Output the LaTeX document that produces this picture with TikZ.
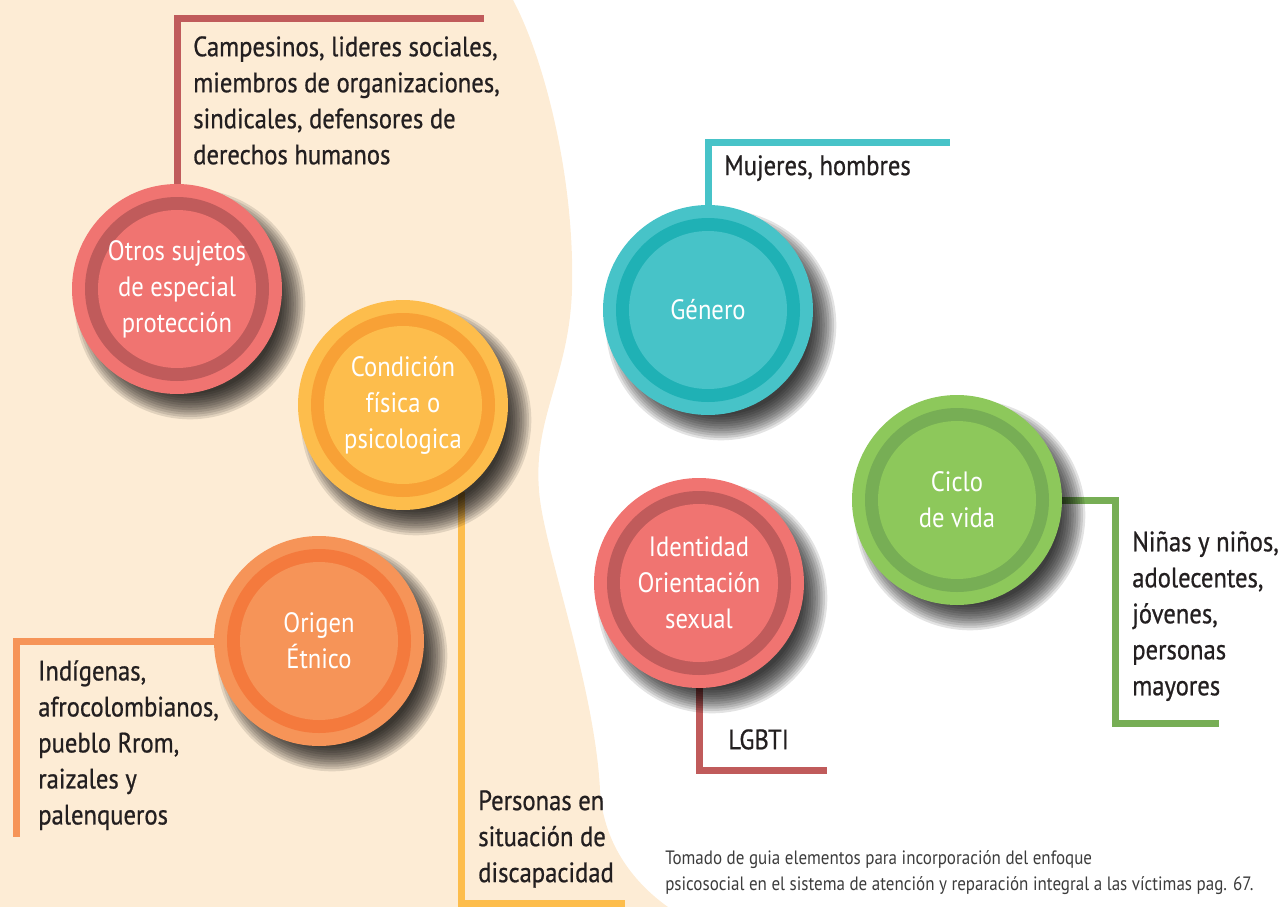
\documentclass[tikz,border=0pt]{standalone}
\usepackage{fontspec}
\setmainfont{PT Sans}[FakeStretch=0.88]
\newfontfamily\notefamily{PT Sans}[FakeStretch=0.88,FakeBold=0.7]
\usetikzlibrary{positioning}
\pgfdeclarelayer{bg}
\pgfdeclarelayer{lines}
\pgfdeclarelayer{shade}
\pgfsetlayers{bg,lines,shade,main}

\definecolor{beige}{RGB}{253,236,213}
\definecolor{ink}{RGB}{35,31,32}
\definecolor{gris}{RGB}{60,60,60}
\definecolor{rosa}{RGB}{240,116,113}
\definecolor{rosaring}{RGB}{192,91,91}
\definecolor{amarillo}{RGB}{253,189,76}
\definecolor{amarilloring}{RGB}{248,161,54}
\definecolor{naranja}{RGB}{246,148,88}
\definecolor{naranjaring}{RGB}{244,122,61}
\definecolor{turquesa}{RGB}{71,195,200}
\definecolor{turquesaring}{RGB}{31,177,181}
\definecolor{verde}{RGB}{141,200,91}
\definecolor{verdering}{RGB}{119,174,85}

\newcommand\bubfont{\fontsize{21}{27}\selectfont}
\newcommand\txtfont{\notefamily\fontsize{21}{27}\selectfont}
\newcommand\srcfont{\fontsize{14.5}{20}\selectfont}

\newcommand\castshadow[1]{%
  \begin{pgfonlayer}{shade}
    \foreach \k in {0,...,11}{\fill[black,opacity=0.11] ([shift={(13,15)}]#1.center) circle ({90+2.3*\k});}
  \end{pgfonlayer}}

\tikzset{
  bubble/.style 2 args={circle, inner sep=0pt, minimum size=157.5pt, fill=#1, text=white,
    align=center, font=\bubfont,
    path picture={\fill[#2] (path picture bounding box.center) circle (92);
                  \fill[#1] (path picture bounding box.center) circle (79);}},
  note/.style={anchor=north west, inner sep=0pt, align=left, text=ink, font=\txtfont},
  link/.style={line width=5.25pt, draw=#1},
}

\begin{document}
\begin{tikzpicture}[x=0.75pt,y=0.75pt,yscale=-1,xscale=1]
\useasboundingbox (0,0) rectangle (1279,907);

% Background
\begin{pgfonlayer}{bg}
\fill[beige] (0,0) -- (513,0) .. controls (545,60) and (575,180) .. (572,290) .. controls (569,380) and (530,420) .. (540,500) .. controls (548,560) and (595,690) .. (600,790) .. controls (603,840) and (630,880) .. (668,907) -- (0,907) -- cycle;
\end{pgfonlayer}

% Circles
\node[bubble={rosa}{rosaring}] (otros) at (177,289) {Otros sujetos\\de especial\\protección};
\castshadow{otros}
\node[bubble={amarillo}{amarilloring}] (condicion) at (403,405) {Condición\\física o\\psicologica};
\castshadow{condicion}
\node[bubble={naranja}{naranjaring}] (origen) at (319,641) {Origen\\Étnico};
\castshadow{origen}
\node[bubble={turquesa}{turquesaring}] (genero) at (708,310) {Género};
\castshadow{genero}
\node[bubble={rosa}{rosaring}] (identidad) at (699,583) {Identidad\\Orientación\\sexual};
\castshadow{identidad}
\node[bubble={verde}{verdering}] (ciclo) at (957,500) {Ciclo\\de vida};
\castshadow{ciclo}

% Text Nodes
\node[note] (campesinos) at (193,36) {Campesinos, lideres sociales,\\miembros de organizaciones,\\sindicales, defensores de\\derechos humanos};
\node[note] (mujeres) at (724,155) {Mujeres, hombres};
\node[note] (ninas) at (1132,531) {Niñas y niños,\\adolecentes,\\jóvenes,\\personas\\mayores};
\node[note] (lgbti) at (728,729) {LGBTI};
\node[note] (indigenas) at (38,660) {Indígenas,\\afrocolombianos,\\pueblo Rrom,\\raizales y\\palenqueros};
\node[note] (personas) at (478,790) {Personas en\\situación de\\discapacidad};
\node[note, font=\srcfont, text=gris] (fuente) at (665,850) {Tomado de guia elementos para incorporación del enfoque\\psicosocial en el sistema de atención y reparación integral a las víctimas pag. 67.};

% Connectors
\coordinate (otrosEnd) at (484,18);
\coordinate (condEnd) at (625,903);
\coordinate (origenEnd) at (16,837);
\coordinate (generoEnd) at (950,142);
\coordinate (identEnd) at (827,770);
\coordinate (cicloKnee) at (1115,500);
\coordinate (cicloEnd) at (1219,723);
\begin{pgfonlayer}{lines}
\draw[link=rosaring] (otros.north) |- (otrosEnd);
\draw[link=amarillo] (condicion.-56) |- (condEnd);
\draw[link=naranja] (origen.west) -| (origenEnd);
\draw[link=turquesa] (genero.north) |- (generoEnd);
\draw[link=rosaring] (identidad.south) |- (identEnd);
\draw[link=verdering] (ciclo.east) -- (cicloKnee) |- (cicloEnd);
\end{pgfonlayer}

\end{tikzpicture}
\end{document}
